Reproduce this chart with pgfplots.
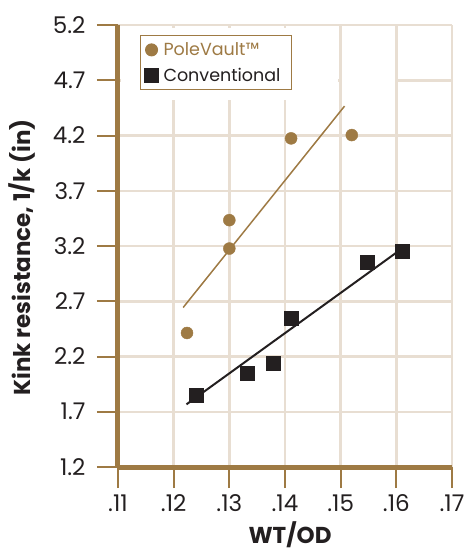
\documentclass[border=0pt]{standalone}
\usepackage{pgfplots}
\pgfplotsset{compat=1.18}
\usepackage{fontspec}
\setmainfont{Poppins}
\definecolor{brn}{RGB}{158,122,68}
\definecolor{dk}{RGB}{35,31,32}
\definecolor{grd}{RGB}{232,222,210}
\begin{document}
\begin{tikzpicture}
\useasboundingbox (-118pt,-83pt) rectangle (349pt,467pt);
\begin{axis}[
  at={(0,0)}, anchor=south west,
  scale only axis, width=334pt, height=442pt,
  xmin=0.11, xmax=0.17, ymin=1.2, ymax=5.2,
  xtick={0.11,0.12,0.13,0.14,0.15,0.16,0.17},
  xticklabels={.11,.12,.13,.14,.15,.16,.17},
  ytick={1.2,1.7,2.2,2.7,3.2,3.7,4.2,4.7,5.2},
  yticklabels={1.2,1.7,2.2,2.7,3.2,3.7,4.2,4.7,5.2},
  axis x line=bottom, axis y line=left,
  axis line style={draw=brn, line width=5pt, -},
  axis on top,
  clip=false,
  tick align=outside, major tick length=21pt,
  tick style={draw=brn, line width=2pt},
  ticklabel style={font=\fontsize{23}{23}\selectfont, text=dk},
  yticklabel style={xshift=-8pt},
  xticklabel style={yshift=-3pt},
  every axis x label/.style={at={(axis description cs:0.515,-0.172)}, anchor=base},
  every axis y label/.style={at={(axis description cs:-0.287,0.474)}, rotate=90, anchor=center},
  label style={font=\fontsize{23}{23}\selectfont\bfseries, text=dk},
  xlabel={WT/OD},
  ylabel={Kink resistance, 1/k (in)},
  legend style={at={(0.066,0.977)}, anchor=north west, draw=brn, line width=1pt, fill=white,
    font=\fontsize{17.5}{21}\selectfont, row sep=7pt, inner xsep=4pt, inner ysep=5pt,
    /tikz/every odd column/.append style={column sep=3pt},
    /tikz/every even column/.append style={text width=122pt}},
  legend cell align=left,
]
% grid
\fill[grd] ([xshift=-1.25pt]axis cs:0.12,1.2) rectangle ([xshift=1.25pt]axis cs:0.12,5.2);
\fill[grd] ([xshift=-1.25pt]axis cs:0.13,1.2) rectangle ([xshift=1.25pt]axis cs:0.13,5.2);
\fill[grd] ([xshift=-1.25pt]axis cs:0.14,1.2) rectangle ([xshift=1.25pt]axis cs:0.14,5.2);
\fill[grd] ([xshift=-1.25pt]axis cs:0.15,1.2) rectangle ([xshift=1.25pt]axis cs:0.15,5.2);
\fill[grd] ([xshift=-1.25pt]axis cs:0.16,1.2) rectangle ([xshift=1.25pt]axis cs:0.16,5.2);
\fill[grd] ([xshift=-1.25pt]axis cs:0.17,1.2) rectangle ([xshift=1.25pt]axis cs:0.17,5.2);
\addplot[grd, line width=2.5pt, forget plot] coordinates {(0.11,1.7) (0.17,1.7)};
\addplot[grd, line width=2.5pt, forget plot] coordinates {(0.11,2.2) (0.17,2.2)};
\addplot[grd, line width=2.5pt, forget plot] coordinates {(0.11,2.7) (0.17,2.7)};
\addplot[grd, line width=2.5pt, forget plot] coordinates {(0.11,3.2) (0.17,3.2)};
\addplot[grd, line width=2.5pt, forget plot] coordinates {(0.11,3.7) (0.17,3.7)};
\addplot[grd, line width=2.5pt, forget plot] coordinates {(0.11,4.2) (0.17,4.2)};
\addplot[grd, line width=2.5pt, forget plot] coordinates {(0.11,4.7) (0.17,4.7)};
\addplot[grd, line width=2.5pt, forget plot] coordinates {(0.11,5.2) (0.17,5.2)};
\fill[white] (axis cs:0.1106,4.52) rectangle (axis cs:0.1495,5.17);
\fill[white] (axis cs:0.1503,4.6) rectangle (axis cs:0.1597,4.8);
\addplot[brn, line width=1.5pt, forget plot] coordinates {(0.1217,2.643) (0.1507,4.466)};
\addplot[dk, line width=2pt, forget plot] coordinates {(0.1223,1.767) (0.1602,3.147)};
\addplot[only marks, mark=*, mark size=6pt, color=brn] coordinates {
  (0.1224,2.413) (0.1300,3.434) (0.1300,3.177) (0.1411,4.174) (0.1520,4.204)};
\addplot[only marks, mark=square*, mark size=7pt, color=dk] coordinates {
  (0.1241,1.849) (0.1333,2.051) (0.1378,2.141) (0.1412,2.549) (0.1547,3.053) (0.1610,3.156)};
\legend{\textcolor{brn}{PoleVault™}, \textcolor{dk}{Conventional}}
\end{axis}
\end{tikzpicture}
\end{document}
